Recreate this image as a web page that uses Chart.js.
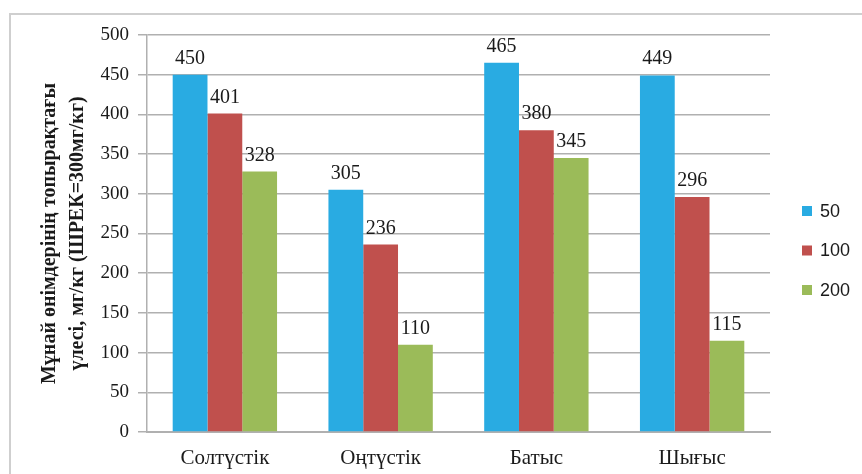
<!DOCTYPE html>
<html>
<head>
<meta charset="utf-8">
<script src="https://cdn.jsdelivr.net/npm/chart.js@4"></script>
<style>
    html, body { margin: 0; padding: 0; background: #fff; }
    body { width: 862px; height: 474px; position: relative; overflow: hidden; }
    .frame {
        position: absolute; left: 9px; top: 13px; width: 900px; height: 500px;
        border-top: 2px solid #cfcfcf; border-left: 2px solid #cfcfcf;
    }
    #soilChart { position: absolute; left: 0; top: 0; }
</style>
</head>
<body>
<div class="frame"></div>
<canvas id="soilChart" width="862" height="474"></canvas>
<script>
var regions = ['Солтүстік', 'Оңтүстік', 'Батыс', 'Шығыс'];
var seriesNames = ['50', '100', '200'];
var values50 = [450, 305, 465, 449];
var values100 = [401, 236, 380, 296];
var values200 = [328, 110, 345, 115];
var seriesColors = ['#29abe2', '#c0504d', '#9bbb59'];
var yTitle = ['Мұнай өнімдерінің топырақтағы', 'үлесі, мг/кг (ШРЕК=300мг/кг)'];

var serif = '"Liberation Serif", "Times New Roman", serif';

// value printed above every bar
var barValues = {
    id: 'barValues',
    afterDatasetsDraw: function (chart) {
        var ctx = chart.ctx;
        ctx.save();
        ctx.font = '20px ' + serif;
        ctx.fillStyle = '#1a1a1a';
        ctx.textAlign = 'center';
        ctx.textBaseline = 'alphabetic';
        chart.data.datasets.forEach(function (ds, i) {
            chart.getDatasetMeta(i).data.forEach(function (bar, j) {
                ctx.fillText(String(ds.data[j]), bar.x, bar.y - 11);
            });
        });
        ctx.restore();
    }
};

// legend to the right of the plot
var sideLegend = {
    id: 'sideLegend',
    afterDraw: function (chart) {
        var ctx = chart.ctx;
        var x = chart.chartArea.right + 32;
        var y0 = 211;
        ctx.save();
        ctx.font = '18px "Liberation Sans", Arial, sans-serif';
        ctx.textBaseline = 'middle';
        ctx.textAlign = 'left';
        chart.data.datasets.forEach(function (ds, i) {
            var y = y0 + i * 39.5;
            ctx.fillStyle = ds.backgroundColor;
            ctx.fillRect(x, y - 5, 10, 10);
            ctx.fillStyle = '#1a1a1a';
            ctx.fillText(ds.label, x + 18, y + 1);
        });
        ctx.restore();
    }
};

var ctx = document.getElementById('soilChart').getContext('2d');
var soilChart = new Chart(ctx, {
    type: 'bar',
    data: {
        labels: regions,
        datasets: [
            { label: seriesNames[0], data: values50, backgroundColor: seriesColors[0] },
            { label: seriesNames[1], data: values100, backgroundColor: seriesColors[1] },
            { label: seriesNames[2], data: values200, backgroundColor: seriesColors[2] }
        ]
    },
    options: {
        responsive: false,
        animation: false,
        layout: { padding: { top: 35, right: 92, bottom: 0, left: 0 } },
        datasets: {
            bar: { categoryPercentage: 0.67, barPercentage: 1, borderWidth: 0 }
        },
        scales: {
            x: {
                grid: { display: false },
                border: { display: true, color: '#b0b0b0', width: 2 },
                ticks: { color: '#1a1a1a', padding: 6, font: { family: serif, size: 21 } },
                afterFit: function (scale) { scale.height = 42; }
            },
            y: {
                min: 0,
                max: 500,
                ticks: { stepSize: 50, color: '#1a1a1a', padding: 9, font: { family: serif, size: 19 } },
                grid: { color: '#b0b0b0', lineWidth: 1.5, tickLength: 9 },
                border: { display: true, color: '#b0b0b0', width: 1.5 },
                title: {
                    display: true,
                    text: yTitle,
                    color: '#1a1a1a',
                    padding: { top: 36, bottom: 0 },
                    font: { family: serif, size: 20, weight: 'bold', lineHeight: 28 / 20 }
                },
                afterFit: function (scale) { scale.width = 147; }
            }
        },
        plugins: {
            legend: { display: false },
            tooltip: { enabled: false }
        }
    },
    plugins: [barValues, sideLegend]
});
</script>
</body>
</html>
